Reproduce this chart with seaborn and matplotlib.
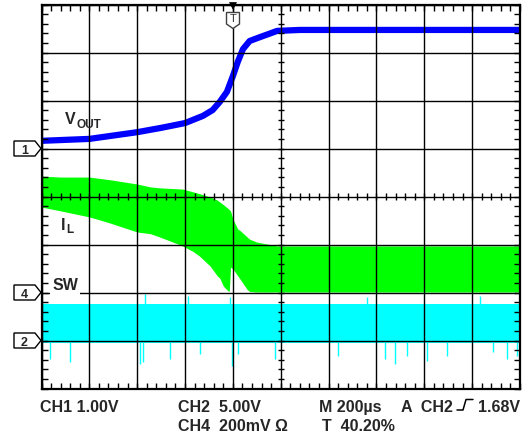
import numpy as np
import pandas as pd
import matplotlib
matplotlib.use("Agg")
import matplotlib.pyplot as plt
from matplotlib.ticker import MultipleLocator
from matplotlib.patches import Polygon, Rectangle
from matplotlib.lines import Line2D
import seaborn as sns

# ---- captured waveforms (time in microseconds, trigger at t = 0) ----
# CH1: output voltage, volts
vout_t = [-800, -600, -400, -300, -200, -125, -85, -55, -25, 0, 20, 42, 70, 113, 185, 280, 700, 1200]
vout_v = [0.16, 0.20, 0.34, 0.43, 0.53, 0.68, 0.80, 0.97, 1.18, 1.51, 1.80, 2.07, 2.24, 2.32, 2.45, 2.47, 2.47, 2.47]

# CH4: inductor current envelope (amps), peaks and valleys of the ripple
il_t = [-800, -720, -600, -515, -400, -345, -305, -210, -165, -140, -95, -65, -55, -40,
        -20, -15, -10, 0, 20, 30, 60, 70, 100, 185, 1200]
il_hi = [0.485, 0.481, 0.481, 0.470, 0.452, 0.440, 0.436, 0.431, 0.419, 0.412, 0.398, 0.385, 0.377, 0.366,
         0.350, 0.345, 0.340, 0.306, 0.265, 0.258, 0.231, 0.222, 0.210, 0.194, 0.194]
il_lo = [0.356, 0.340, 0.315, 0.290, 0.252, 0.245, 0.231, 0.194, 0.170, 0.152, 0.110, 0.069, 0.060, 0.027,
         0.006, 0.006, 0.106, 0.098, 0.070, 0.056, 0.012, 0.004, 0.002, 0.002, 0.002]

# CH2: switch node, volts (switching band plus isolated ringing spikes)
sw_t = [-800, 1200]
sw_hi = [3.85, 3.85]
sw_lo = [-0.30, -0.30]
sw_up_t = [-367, -188, -13, 560, 1031]
sw_up_v = [4.84, 4.64, 4.53, 4.53, 4.64]
sw_dn_t = [-765, -681, -388, -376, -263, -138, -4, 21, 175, 438, 635, 676, 727, 810, 894, 1086, 1144, 1186]
sw_dn_v = [-1.93, -2.24, -2.45, -2.24, -1.93, -1.41, -2.66, -1.41, -1.93, -1.61, -1.93, -2.45, -1.61,
           -2.14, -1.61, -1.20, -1.93, -1.61]

# channel scale (units/div) and ground position (div from bottom)
CH1_SCALE, CH1_POS = 1.0, 5.0
CH4_SCALE, CH4_POS = 0.2, 2.0
CH2_SCALE, CH2_POS = 5.0, 1.0

BLUE, GREEN, CYAN = "#0000ff", "#00ff00", "#00ffff"

sns.set_style("white")
plt.rcParams["font.family"] = ["Liberation Sans", "DejaVu Sans"]
plt.rcParams["font.weight"] = "bold"

W, H = 531, 439
fig = plt.figure(figsize=(W / 100, H / 100), dpi=100)


def fx(px):
    return px / W


def fy(py):
    return 1 - py / H


ax = fig.add_axes([fx(41.5), fy(389.5), (520 - 41.5) / W, (389.5 - 5.5) / H])
ax.set_xlim(-800, 1200)
ax.set_ylim(0, 8)

# switch node band
t2 = np.array(sw_t)
ax.fill_between(t2, CH2_POS + np.array(sw_lo) / CH2_SCALE, CH2_POS + np.array(sw_hi) / CH2_SCALE,
                color=CYAN, lw=0, zorder=1)
ax.vlines(sw_up_t, CH2_POS, CH2_POS + np.array(sw_up_v) / CH2_SCALE, color=CYAN, lw=1.0, zorder=1)
ax.vlines(sw_dn_t, CH2_POS, CH2_POS + np.array(sw_dn_v) / CH2_SCALE, color=CYAN, lw=1.0, zorder=1)

# inductor current ripple band
t4 = np.array(il_t)
ax.fill_between(t4, CH4_POS + np.array(il_lo) / CH4_SCALE, CH4_POS + np.array(il_hi) / CH4_SCALE,
                color=GREEN, lw=0, zorder=1)

# output voltage trace
vdf = pd.DataFrame({"t": vout_t, "div": CH1_POS + np.array(vout_v) / CH1_SCALE})
sns.lineplot(data=vdf, x="t", y="div", ax=ax, color=BLUE, lw=4.5, zorder=1.5,
             estimator=None, sort=False)
ax.set_xlabel("")
ax.set_ylabel("")

# graticule
ax.xaxis.set_major_locator(MultipleLocator(200))
ax.xaxis.set_minor_locator(MultipleLocator(40))
ax.yaxis.set_major_locator(MultipleLocator(1))
ax.yaxis.set_minor_locator(MultipleLocator(0.2))
ax.tick_params(which="both", direction="in", top=True, right=True, bottom=True, left=True,
               length=4, width=1, color="black", labelbottom=False, labelleft=False)
ax.grid(True, which="major", color="black", lw=1.0)
ax.set_axisbelow(False)
for s in ax.spines.values():
    s.set_color("black")
    s.set_linewidth(1.6)
    s.set_visible(True)

# tick marks on the centre cross
ax.vlines(np.arange(-800, 1201, 40), 4 - 0.065, 4 + 0.065, color="black", lw=1, zorder=3)
ax.hlines(np.arange(0, 8.01, 0.2), 200 - 13, 200 + 13, color="black", lw=1, zorder=3)

# channel ground markers
def chan_marker(py, label):
    pts = [(14, py - 7.5), (35, py - 7.5), (41, py), (35, py + 7.5), (14, py + 7.5)]
    fig.add_artist(Polygon([(fx(x), fy(y)) for x, y in pts], closed=True, transform=fig.transFigure,
                           facecolor="white", edgecolor="black", lw=1.0))
    fig.text(fx(24.5), fy(py), label, ha="center", va="center_baseline", fontsize=9, fontweight="bold")


chan_marker(149.5, "1")
chan_marker(293.5, "4")
chan_marker(341.5, "2")

# trigger position marker
tri = [(229.5, 3.5), (236.5, 3.5), (233, 10)]
fig.add_artist(Polygon([(fx(x), fy(y)) for x, y in tri], closed=True, transform=fig.transFigure,
                       facecolor="black", edgecolor="black", lw=0.5))
tbox = [(226.5, 13.5), (239.5, 13.5), (239.5, 25), (233, 29.5), (226.5, 25)]
fig.add_artist(Polygon([(fx(x), fy(y)) for x, y in tbox], closed=True, transform=fig.transFigure,
                       facecolor="white", edgecolor="#404040", lw=1.0))
fig.text(fx(233), fy(19.5), "T", ha="center", va="center", fontsize=8, fontweight="normal", color="#303030")

# trace labels
fig.text(fx(65), fy(124), "V", fontsize=11.5, fontweight="bold", va="baseline")
fig.text(fx(76.5), fy(128), "OUT", fontsize=8.5, fontweight="bold", va="baseline")
fig.text(fx(61), fy(230), "I", fontsize=11.5, fontweight="bold", va="baseline")
fig.text(fx(66), fy(233.5), "L", fontsize=8.5, fontweight="bold", va="baseline")
fig.add_artist(Rectangle((fx(50), fy(297)), (80 - 50) / W, (297 - 275) / H, transform=fig.transFigure,
                         facecolor="white", edgecolor="none"))
fig.text(fx(53), fy(290), "SW", fontsize=11.5, fontweight="bold", va="baseline")

# scope settings readout
fs = 11.5
fig.text(fx(40), fy(412), "CH1 1.00V", fontsize=fs, fontweight="bold", va="baseline")
fig.text(fx(178), fy(412), "CH2  5.00V", fontsize=fs, fontweight="bold", va="baseline")
fig.text(fx(178), fy(431), "CH4  200mV \u03a9", fontsize=fs, fontweight="bold", va="baseline")
fig.text(fx(319), fy(412), "M 200\u00b5s", fontsize=fs, fontweight="bold", va="baseline")
fig.text(fx(322), fy(431), "T  40.20%", fontsize=fs, fontweight="bold", va="baseline")
fig.text(fx(401), fy(412), "A  CH2", fontsize=fs, fontweight="bold", va="baseline")
edge = [(457, 411), (463, 411), (466, 400.5), (473, 400.5)]
fig.add_artist(Line2D([fx(x) for x, _ in edge], [fy(y) for _, y in edge], transform=fig.transFigure,
                      color="black", lw=1.1))
fig.text(fx(478), fy(412), "1.68V", fontsize=fs, fontweight="bold", va="baseline")

fig.savefig("out.png", dpi=100, facecolor="white")
